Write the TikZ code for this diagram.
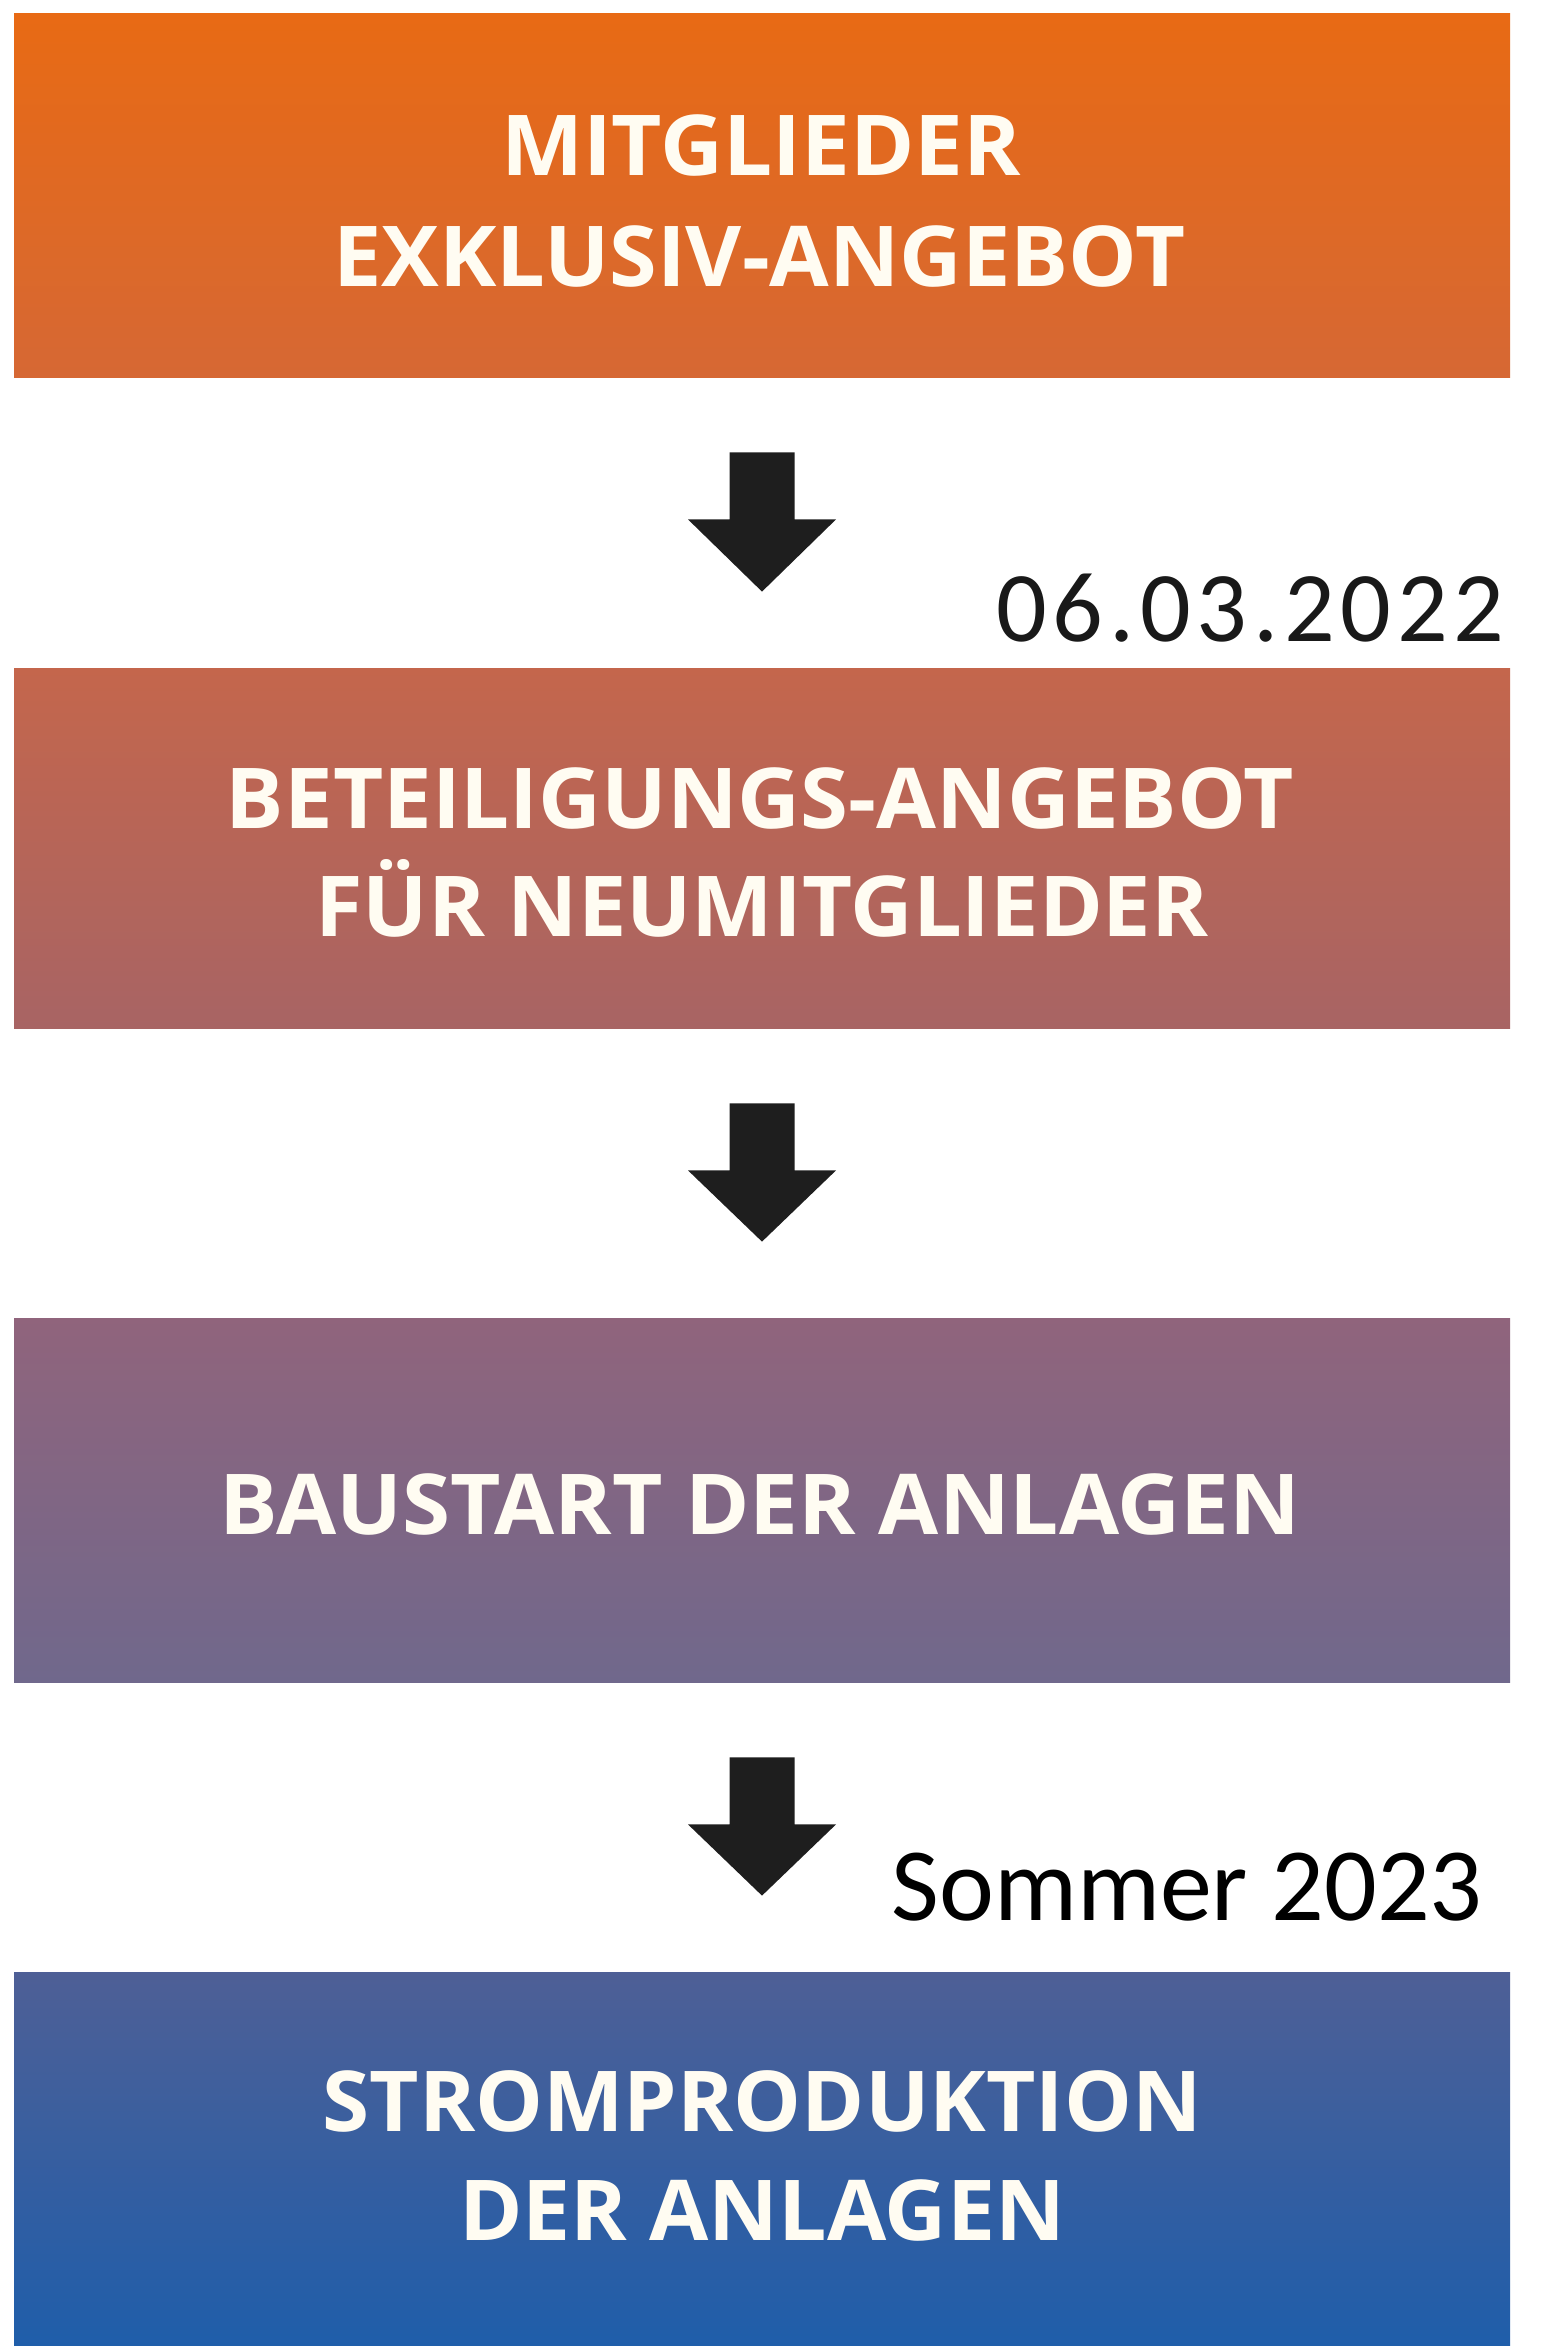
\documentclass[tikz,border=0pt]{standalone}
\usepackage{fontspec}
\usepackage{graphicx}
\setmainfont{Open Sans}
\newfontfamily\boxfont{Open Sans}
\newfontfamily\datefont{Carlito}
\usetikzlibrary{calc}
\definecolor{cAtop}{RGB}{232,106,20}
\definecolor{cAbot}{RGB}{214,104,52}
\definecolor{cBtop}{RGB}{196,102,76}
\definecolor{cBbot}{RGB}{168,100,100}
\definecolor{cCtop}{RGB}{144,100,124}
\definecolor{cCbot}{RGB}{112,104,140}
\definecolor{cDtop}{RGB}{78,95,150}
\definecolor{cDbot}{RGB}{31,94,170}
\definecolor{txtcream}{RGB}{255,252,242}
\definecolor{arrowblack}{RGB}{30,30,30}
\newcommand\myfit[2]{\setbox0\hbox{#2}\pgfmathsetmacro\mysx{(#1*0.5)/\the\wd0}\scalebox{\mysx}[1]{\box0}}
\tikzset{
  flowbox/.style={shade, minimum width=748pt, inner sep=0pt, draw=none},
  boxtxt/.style={anchor=base, inner sep=0pt, text=txtcream, font=\boxfont\bfseries\fontsize{42}{42}\selectfont},
  datetxt/.style={anchor=base east, inner sep=0pt, font=\datefont\fontsize{50}{50}\selectfont},
  blockarrow/.style={fill=arrowblack, draw=none}
}
\newcommand\blockdown[2]{% #1 start node, #2 target node
  \fill[blockarrow] ($(#1.south)+(-32.5,75)$) -- ($(#1.south)+(32.5,75)$) -- ($(#1.south)+(32.5,142)$) -- ($(#1.south)+(74,142)$) -- ($(#2.north)+(0,-76)$) -- ($(#1.south)+(-74,142)$) -- ($(#1.south)+(-32.5,142)$) -- cycle;}
\begin{document}
\begin{tikzpicture}[x=0.5pt,y=-0.5pt]
\useasboundingbox[fill=white] (0,0) rectangle (1554,2351);
% boxes
\node[flowbox, minimum height=182pt, top color=cAtop, bottom color=cAbot] (b1) at (762,195) {};
\node[flowbox, minimum height=180pt, top color=cBtop, bottom color=cBbot] (b2) at (762,848) {};
\node[flowbox, minimum height=182pt, top color=cCtop, bottom color=cCbot] (b3) at (762,1500) {};
\node[flowbox, minimum height=186.5pt, top color=cDtop, bottom color=cDbot] (b4) at (762,2158.5) {};
% texts
\node[boxtxt] (t1a) at (761,175) {\myfit{520}{MITGLIEDER}};
\node[boxtxt] (t1b) at (759,286) {\myfit{852}{EXKLUSIV-ANGEBOT}};
\node[boxtxt] (t2a) at (760,828) {\myfit{1068}{BETEILIGUNGS-ANGEBOT}};
\node[boxtxt] (t2b) at (762,936) {\myfit{893}{FÜR NEUMITGLIEDER}};
\node[boxtxt] (t3a) at (760,1534) {\myfit{1081}{BAUSTART DER ANLAGEN}};
\node[boxtxt] (t4a) at (762,2131) {\myfit{879}{STROMPRODUKTION}};
\node[boxtxt] (t4b) at (762,2240) {\myfit{606}{DER ANLAGEN}};
% arrows
\blockdown{b1}{b2}
\blockdown{b2}{b3}
\blockdown{b3}{b4}
% dates
\node[datetxt, text=black!90] (d1) at (1505,641) {0\kern2.9pt6\kern2.9pt.\kern2.9pt0\kern2.9pt3\kern2.9pt.\kern2.9pt2\kern2.9pt0\kern2.9pt2\kern2.9pt2};
\node[datetxt, text=black, font=\datefont\fontsize{52}{52}\selectfont] (d2) at (1483,1920) {Sommer 2023};
\end{tikzpicture}
\end{document}
